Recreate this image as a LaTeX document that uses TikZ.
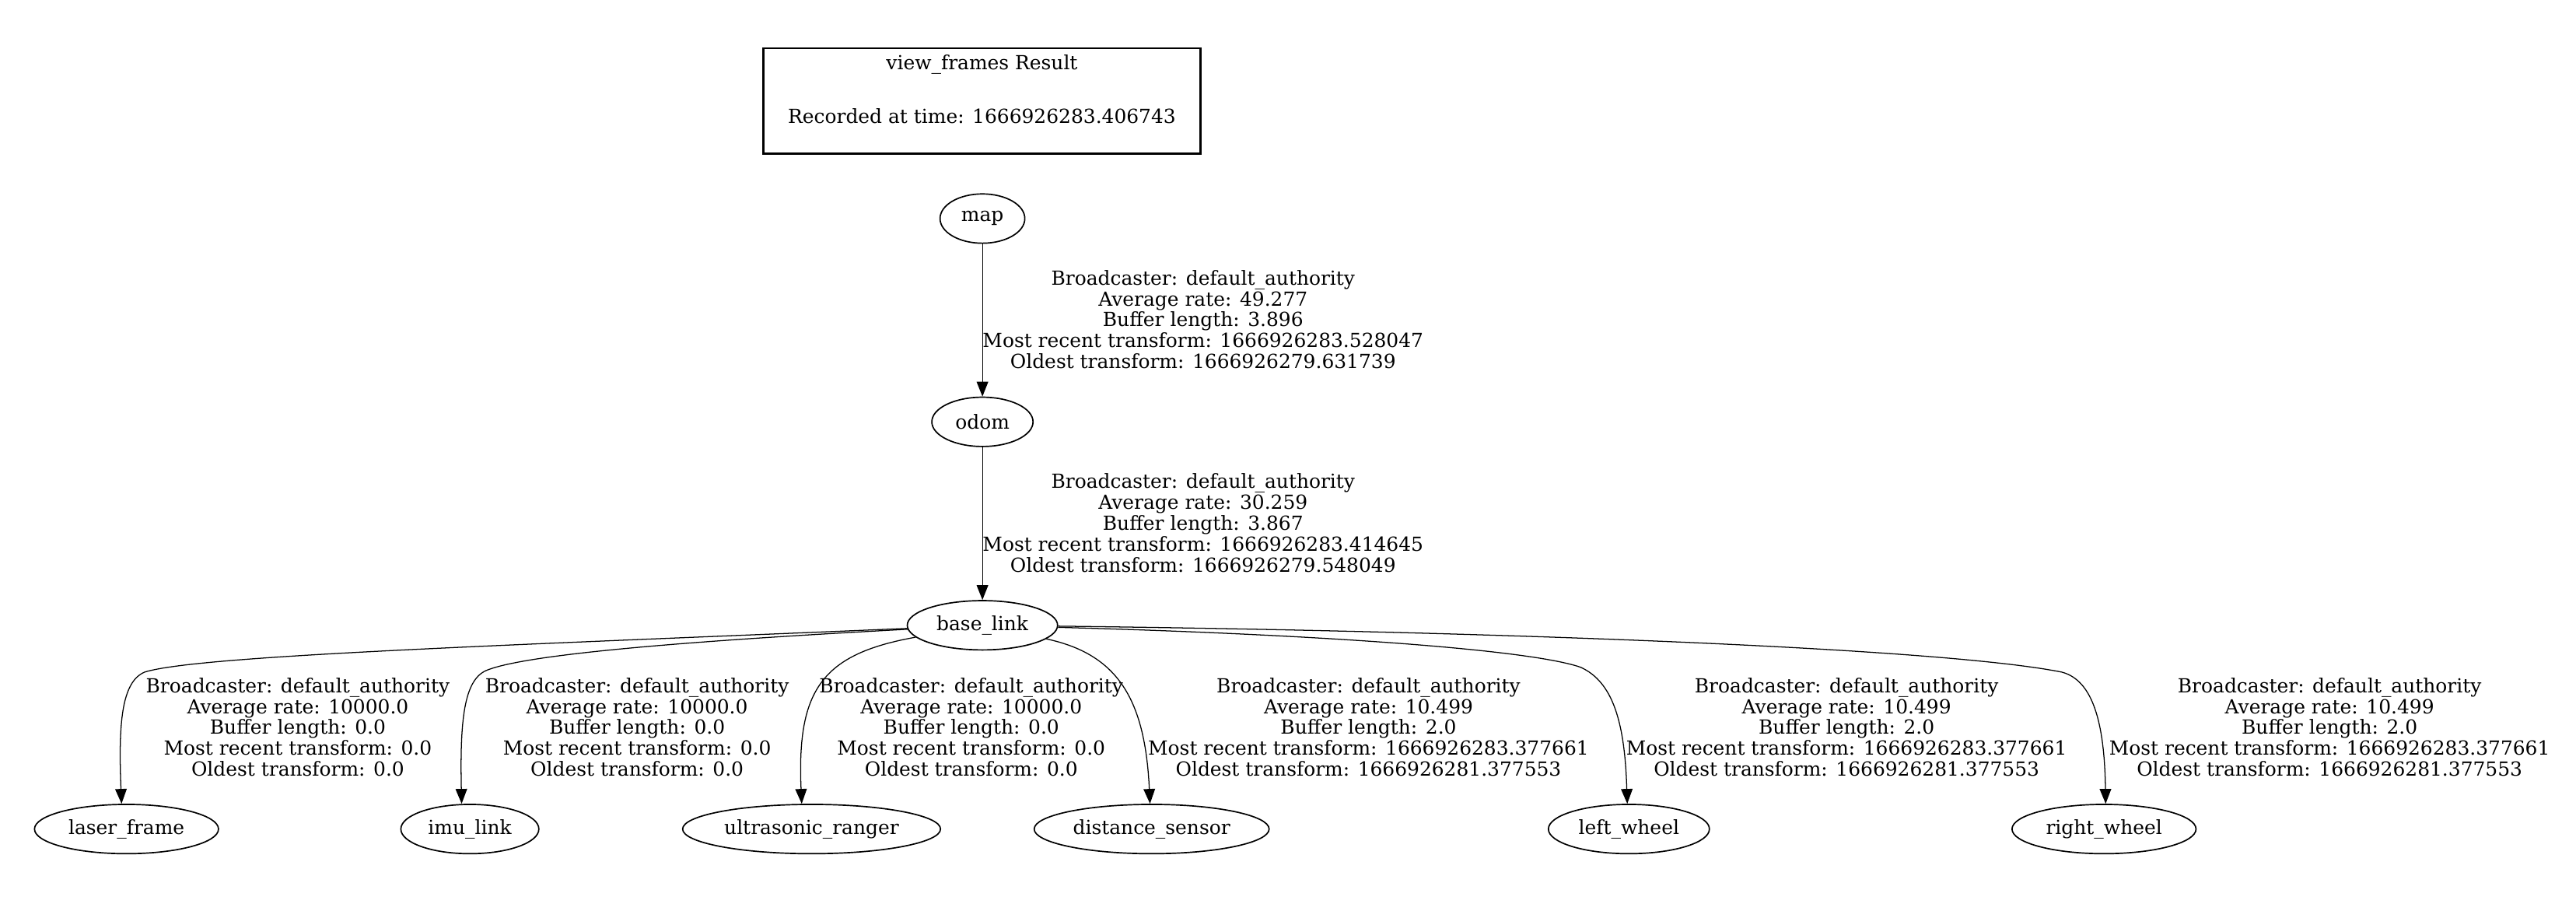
\documentclass[tikz,border=0pt]{standalone}
\usepackage{fontspec}
\setmainfont{DejaVu Serif}
\usetikzlibrary{shapes.geometric,arrows.meta}
\newcommand\tfinfo[4]{Broadcaster: default\_authority\\Average rate: #1\\Buffer length: #2\\Most recent transform: #3\\Oldest transform: #4}
\begin{document}
\begin{tikzpicture}[x=1pt,y=-1pt,
  every node/.style={font=\fontsize{11.8}{12.7}\selectfont},
  frame/.style={ellipse,draw,line width=0.8pt,minimum height=30pt,inner sep=0pt},
  tf/.style={-{Triangle[length=9pt,width=7pt]},line width=0.6pt},
  info/.style={align=center,inner sep=0pt}]
\useasboundingbox (0,0) rectangle (1568,550);
\node[draw,line width=1.4pt,minimum width=265.7pt,minimum height=64.3pt,align=center,inner sep=0pt,text depth=14.7pt] (title) at (597.7,61.5) {view\_frames Result\\[20.3pt]Recorded at time: 1666926283.406743};
\node[frame,minimum width=51.6pt] (map) at (598,133) {map};
\node[frame,minimum width=61.6pt] (odom) at (598,256.7) {odom};
\node[frame,minimum width=91.5pt] (base) at (598,380.5) {base\_link};
\node[frame,minimum width=112pt] (laser) at (77,504.5) {laser\_frame};
\node[frame,minimum width=84pt] (imu) at (286,504.5) {imu\_link};
\node[frame,minimum width=157pt] (ultra) at (494,504.5) {ultrasonic\_ranger};
\node[frame,minimum width=143pt] (dist) at (701,504.5) {distance\_sensor};
\node[frame,minimum width=98pt] (lwheel) at (991.5,504.5) {left\_wheel};
\node[frame,minimum width=112pt] (rwheel) at (1280.7,504.5) {right\_wheel};
\draw[tf] (map) -- (odom);
\draw[tf] (odom) -- (base);
\draw[tf] (base) .. controls (300,393) and (120,399) .. (88,409) .. controls (74,415) and (72,440) .. ([xshift=-3pt]laser.north);
\draw[tf] (base) .. controls (420,390) and (320,398) .. (296,408) .. controls (282,414) and (280,440) .. ([xshift=-5pt]imu.north);
\draw[tf] (base) .. controls (500,398) and (485,420) .. ([xshift=-6pt]ultra.north);
\draw[tf] (base) .. controls (680,398) and (697,425) .. ([xshift=-1pt]dist.north);
\draw[tf] (base) .. controls (800,386) and (930,395) .. (962,406) .. controls (982,415) and (989,440) .. ([xshift=-1pt]lwheel.north);
\draw[tf] (base) .. controls (900,384) and (1180,394) .. (1255,409) .. controls (1274,414) and (1281,440) .. ([xshift=1pt]rwheel.north);
\node[info] (mapodom) at (732.3,194.4) {\tfinfo{49.277}{3.896}{1666926283.528047}{1666926279.631739}};
\node[info] (odombase) at (732.3,318.3) {\tfinfo{30.259}{3.867}{1666926283.414645}{1666926279.548049}};
\node[info] (baselaser) at (181.3,442.5) {\tfinfo{10000.0}{0.0}{0.0}{0.0}};
\node[info] (baseimu) at (387.8,442.5) {\tfinfo{10000.0}{0.0}{0.0}{0.0}};
\node[info] (baseultra) at (591.2,442.5) {\tfinfo{10000.0}{0.0}{0.0}{0.0}};
\node[info] (basedist) at (833,442.5) {\tfinfo{10.499}{2.0}{1666926283.377661}{1666926281.377553}};
\node[info] (baselwheel) at (1124,442.5) {\tfinfo{10.499}{2.0}{1666926283.377661}{1666926281.377553}};
\node[info] (baserwheel) at (1418,442.5) {\tfinfo{10.499}{2.0}{1666926283.377661}{1666926281.377553}};
\end{tikzpicture}
\end{document}
